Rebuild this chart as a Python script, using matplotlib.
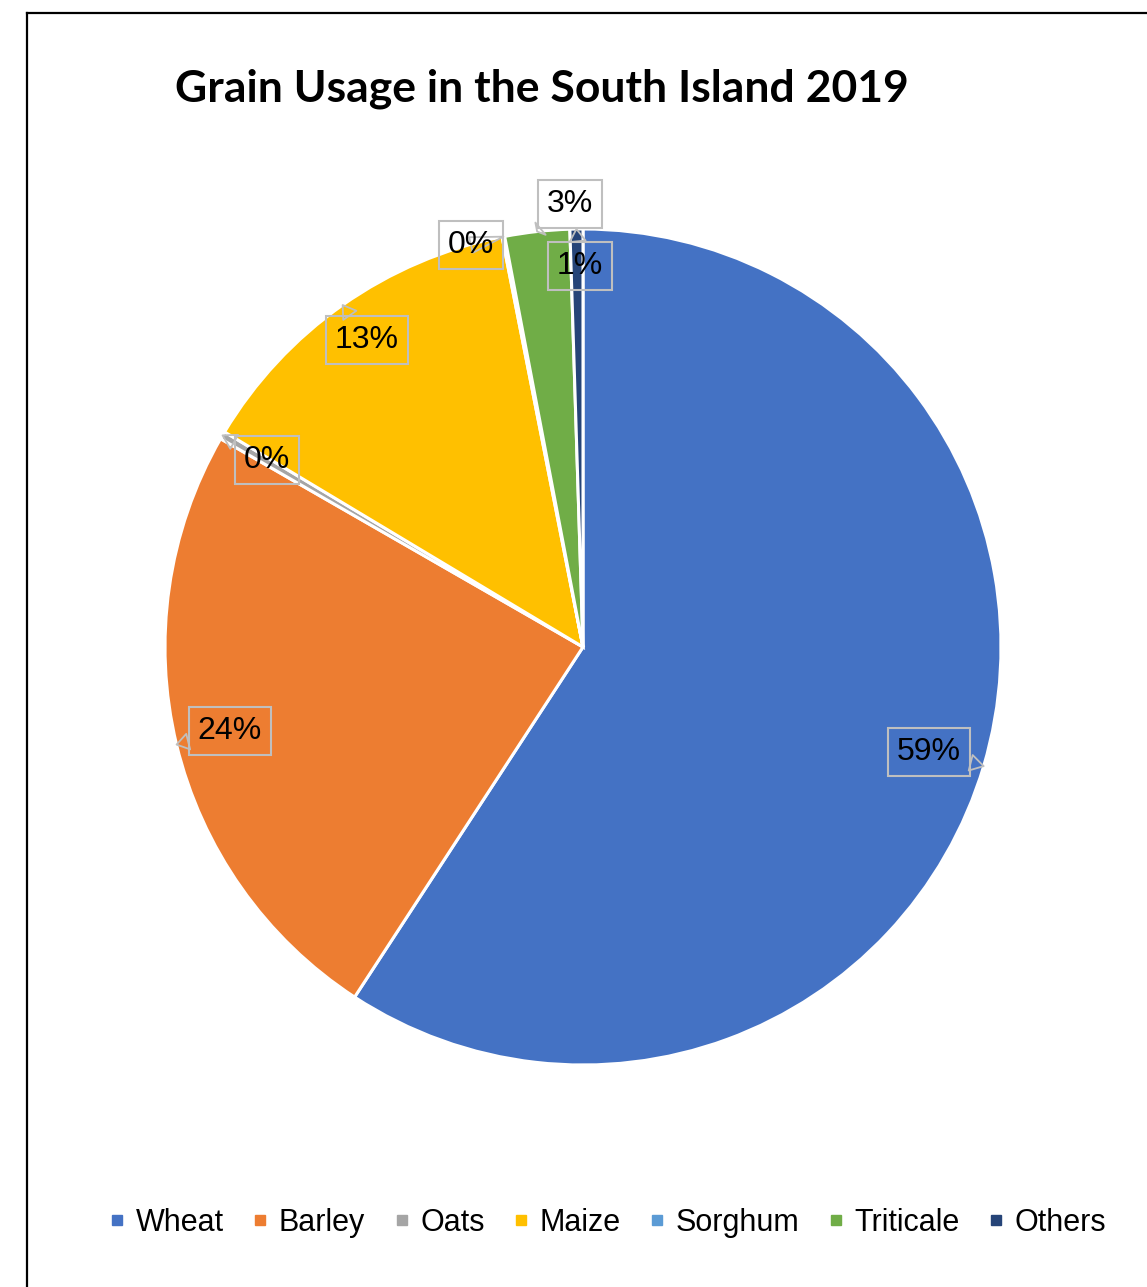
import matplotlib as mpl
mpl.use('Agg')
import matplotlib.pyplot as plt
from matplotlib.lines import Line2D
import numpy as np

# data
grains = ['Wheat', 'Barley', 'Oats', 'Maize', 'Sorghum', 'Triticale', 'Others']
share = [59.2, 24.1, 0.3, 13.3, 0.1, 2.5, 0.5]
colors = ['#4472C4', '#ED7D31', '#A5A5A5', '#FFC000', '#5B9BD5', '#70AD47', '#264478']
title = 'Grain Usage in the South Island 2019'

# label box centres (pixels in the 1147x1287 image)
label_px = [(929, 752), (230, 731), (267, 460), (367, 340),
            (471, 245), (570, 204), (580, 266)]

W, H = 1147, 1287
cx, cy, R = 583, 647, 418

fig = plt.figure(figsize=(W / 100, H / 100), dpi=100)

# chart frame
fig.add_artist(Line2D([27 / W, 27 / W], [0, 1 - 13 / H], color='black', lw=1.6))
fig.add_artist(Line2D([27 / W, 1], [1 - 13 / H, 1 - 13 / H], color='black', lw=1.6))

ax = fig.add_axes([(cx - R) / W, (H - cy - R) / H, 2 * R / W, 2 * R / H])
wedges, _ = ax.pie(share, colors=colors, startangle=90, counterclock=False,
                   radius=1, wedgeprops=dict(edgecolor='white', linewidth=2.2))
ax.set_xlim(-1, 1)
ax.set_ylim(-1, 1)
ax.set_aspect('equal')
ax.axis('off')

for w, v, (px, py) in zip(wedges, share, label_px):
    mid = np.deg2rad((w.theta1 + w.theta2) / 2)
    tip = (np.cos(mid), np.sin(mid))
    pos = ((px - cx) / R, (cy - py) / R)
    ax.annotate(f'{int(v + 0.5)}%', xy=tip, xytext=pos, ha='center', va='center',
                fontsize=23, family='Liberation Sans', color='black',
                bbox=dict(boxstyle='square,pad=0.28', fc='none', ec='#BFBFBF', lw=1.5),
                arrowprops=dict(arrowstyle='wedge,tail_width=0.5,shrink_factor=0.5',
                                fc='none', ec='#BFBFBF', lw=1.3,
                                shrinkA=0, shrinkB=0),
                annotation_clip=False)

fig.text(542 / W, 1 - 89 / H, title, ha='center', va='center',
         fontsize=32, fontweight='bold', family='Lato')

handles = [Line2D([], [], marker='s', ls='', color=c, markersize=7) for c in colors]
fig.legend(handles, grains, loc='center', ncol=7, frameon=False,
           bbox_to_anchor=(608 / W, 1 - 1223 / H),
           prop={'family': 'Liberation Sans', 'size': 22},
           handlelength=0.5, handletextpad=0.35, columnspacing=0.95)

fig.savefig('out.png', dpi=100, facecolor='white')
